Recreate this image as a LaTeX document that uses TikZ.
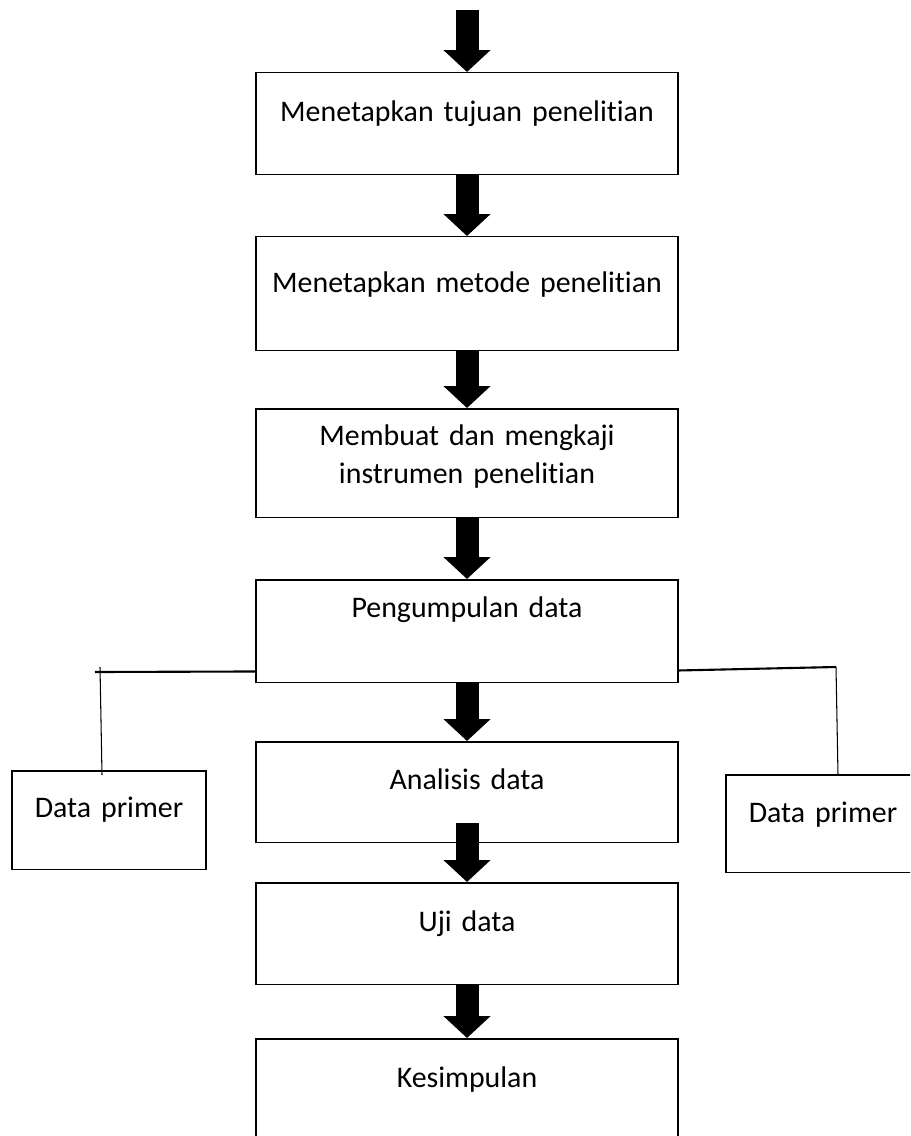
\documentclass[tikz,border=0pt]{standalone}
\usepackage{fontspec}
\setmainfont{Carlito}[Ligatures={NoCommon,NoContextual}, Contextuals=NoAlternate, WordSpace=0.7]
\usetikzlibrary{arrows.meta,calc}

\begin{document}
\begin{tikzpicture}[x=0.02cm, y=-0.02cm, line width=0.85pt,
    font={\fontsize{17pt}{21.6pt}\selectfont},
    stepbox/.style={draw, anchor=north, inner sep=0pt, text width=8.44cm, align=center},
    sidebox/.style={draw, anchor=north, inner sep=0pt, text width=3.88cm, align=center},
    bigarrow/.style={line width=0.46cm, -{Triangle[length=0.44cm, width=0.92cm]}},
    joinline/.style={line width=1.2pt},
    dropline/.style={line width=0.6pt}]
  % page frame, pixel units
  \useasboundingbox (0,0) rectangle (910,1136);
  \clip (0,0) rectangle (910,1136);

  % Main steps
  \node[stepbox, text height=0.98cm, text depth=1.06cm] (tujuan) at (467,72) {Menetapkan tujuan penelitian};
  \node[stepbox, text height=1.12cm, text depth=1.16cm] (metode) at (467,236) {Menetapkan metode penelitian};
  \node[stepbox, text height=0.74cm, text depth=1.44cm] (instrumen) at (467,408) {Membuat dan mengkaji\\instrumen penelitian};
  \node[stepbox, text height=0.76cm, text depth=1.30cm] (kumpul) at (467,579) {Pengumpulan data};
  \node[stepbox, text height=0.96cm, text depth=1.06cm] (analisis) at (467,741) {Analisis data};
  \node[stepbox, text height=0.98cm, text depth=1.06cm] (uji) at (467,882) {Uji data};
  \node[stepbox, text height=0.98cm, text depth=1.46cm] (simpulan) at (467,1038) {Kesimpulan};

  % Side boxes
  \node[sidebox, text height=0.94cm, text depth=1.04cm] (primerL) at (109,770) {Data primer};
  \node[sidebox, text height=0.96cm, text depth=1.00cm] (primerR) at (823,774) {Data primer};

  % Block arrows
  \coordinate (start) at (467,10);
  \draw[bigarrow] (start) -- (start |- tujuan.north);
  \draw[bigarrow] (tujuan.south) -- (metode.north);
  \draw[bigarrow] (metode.south) -- (instrumen.north);
  \draw[bigarrow] (instrumen.south) -- (kumpul.north);
  \draw[bigarrow] (kumpul.south) -- (analisis.north);
  \draw[bigarrow] ($(analisis.south)+(0,-20)$) -- (uji.north);
  \draw[bigarrow] (uji.south) -- (simpulan.north);

  % Branches to the side boxes
  \coordinate (kl) at (100,672);
  \coordinate (kr) at (836,667);
  \draw[joinline] ($(kumpul.south west)+(0,-12)$) -- ($(kl)+(-5,0)$);
  \draw[dropline] ($(kl)+(0,-5)$) -- ($(primerL.north -| kl)+(2,5)$);
  \draw[joinline] ($(kumpul.south east)+(0,-13)$) -- (kr);
  \draw[dropline] (kr) -- ($(primerR.north -| kr)+(2,1)$);
\end{tikzpicture}
\end{document}
